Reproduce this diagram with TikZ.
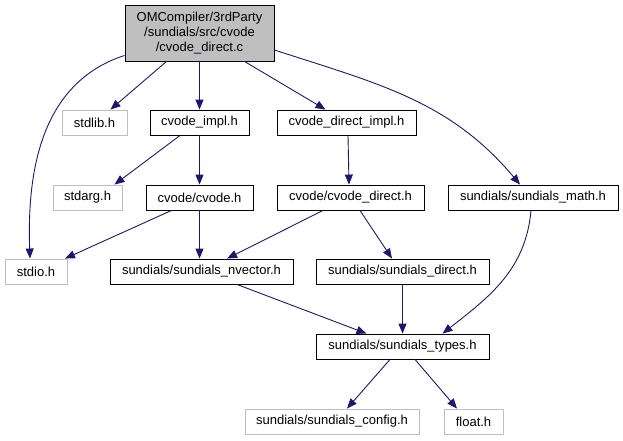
\documentclass[tikz,border=0pt]{standalone}
\usepackage{fontspec}
\setmainfont{Liberation Sans}
\usetikzlibrary{arrows.meta}
\definecolor{edgeBlue}{RGB}{25,25,112}
\definecolor{sysGray}{RGB}{191,191,191}

\begin{document}
\begin{tikzpicture}[x=1pt, y=-1pt,
    hdr/.style={draw=black, line width=0.9pt, minimum height=25pt, inner sep=0pt,
                font=\fontsize{13}{15}\selectfont},
    syshdr/.style={hdr, draw=sysGray},
    edge/.style={draw=edgeBlue, line width=0.9pt,
                 -{Triangle[length=10pt, width=8pt]}}]
    \useasboundingbox (0,0) rectangle (623,440);
    % file itself
    \node[hdr, fill=sysGray, minimum width=149pt, minimum height=56pt, align=center]
      (root) at (199.5,33) {OMCompiler/3rdParty\\/sundials/src/cvode\\/cvode\_direct.c};
    % included headers
    \node[syshdr, minimum width=65pt]  (stdlib)   at (94.5,122.5)  {stdlib.h};
    \node[hdr, minimum width=99pt]     (cimpl)    at (199.5,122.5) {cvode\_impl.h};
    \node[hdr, minimum width=139pt]    (cdimpl)   at (346.5,122.5) {cvode\_direct\_impl.h};
    \node[syshdr, minimum width=69pt]  (stdarg)   at (87.5,197.5)  {stdarg.h};
    \node[hdr, minimum width=107pt]    (cvode)    at (199.5,197.5) {cvode/cvode.h};
    \node[hdr, minimum width=147pt]    (cvdirect) at (350.5,197.5) {cvode/cvode\_direct.h};
    \node[hdr, minimum width=170pt]    (math)     at (533,197.5)   {sundials/sundials\_math.h};
    \node[syshdr, minimum width=62pt]  (stdio)    at (36,271.5)    {stdio.h};
    \node[hdr, minimum width=183pt]    (nvector)  at (201.5,271.5) {sundials/sundials\_nvector.h};
    \node[hdr, minimum width=173pt]    (sdirect)  at (402.5,271.5) {sundials/sundials\_direct.h};
    \node[hdr, minimum width=173pt]    (types)    at (402.5,346.5) {sundials/sundials\_types.h};
    \node[syshdr, minimum width=174pt] (config)   at (332,421.5)   {sundials/sundials\_config.h};
    \node[syshdr, minimum width=59pt]  (float)    at (473.5,421.5) {float.h};

    % include edges
    \draw[edge] ([yshift=6pt]root.south west) to[out=198, in=92] ([xshift=-6pt]stdio.north);
    \draw[edge] ([xshift=-33pt]root.south) -- ([xshift=16pt]stdlib.north);
    \draw[edge] (root.south) -- (cimpl.north);
    \draw[edge] ([xshift=45pt]root.south) -- ([xshift=-21pt]cdimpl.north);
    \draw[edge] ([yshift=-17pt]root.east) to[out=-18, in=130] ([xshift=-13pt]math.north);
    \draw[edge] ([xshift=-19.5pt]cimpl.south) -- ([xshift=27pt]stdarg.north);
    \draw[edge] (cimpl.south) -- (cvode.north);
    \draw[edge] ([xshift=1.5pt]cdimpl.south) -- ([xshift=-1.5pt]cvdirect.north);
    \draw[edge] ([xshift=-28pt]cvode.south) -- ([xshift=29pt]stdio.north);
    \draw[edge] (cvode.south) -- (cvode.south |- nvector.north);
    \draw[edge] ([xshift=-27.5pt]cvdirect.south) -- ([xshift=25.5pt]nvector.north);
    \draw[edge] ([xshift=9.5pt]cvdirect.south) -- ([xshift=-10.5pt]sdirect.north);
    \draw[edge] ([xshift=-2pt]math.south) to[out=-95, in=38] ([xshift=40pt]types.north);
    \draw[edge] ([xshift=35.5pt]nvector.south) -- ([xshift=-36pt]types.north);
    \draw[edge] (sdirect.south) -- (types.north);
    \draw[edge] ([xshift=-12.5pt]types.south) -- ([xshift=15pt]config.north);
    \draw[edge] ([xshift=12.5pt]types.south) -- ([xshift=-16.5pt]float.north);
\end{tikzpicture}
\end{document}
